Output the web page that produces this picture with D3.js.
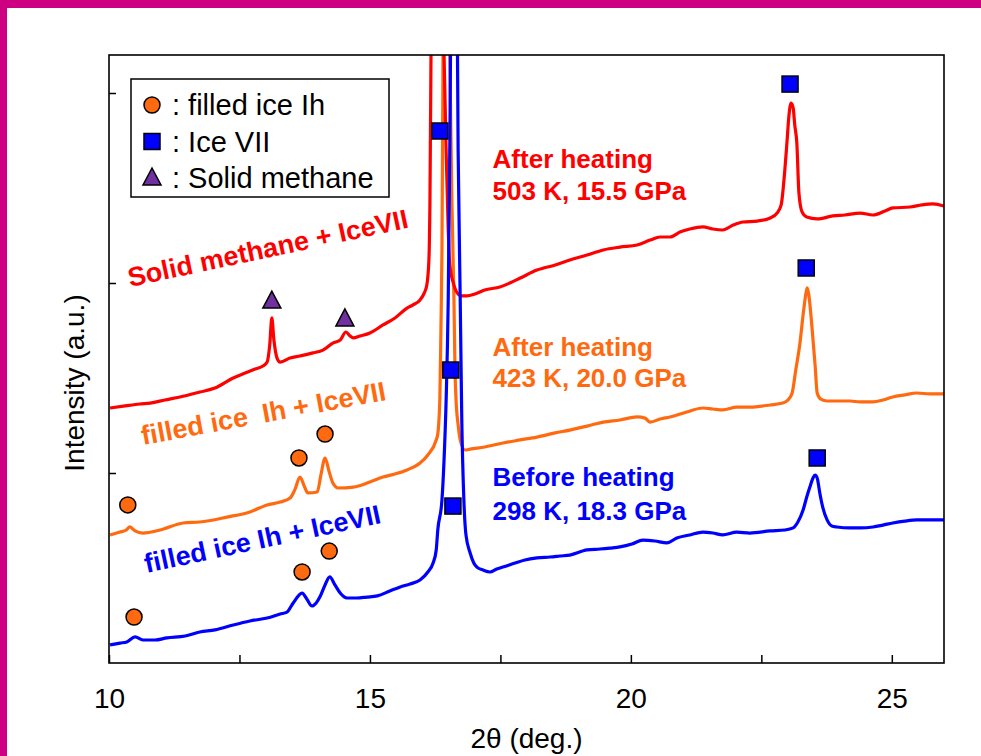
<!DOCTYPE html>
<html>
<head>
<meta charset="utf-8">
<script src="https://cdn.jsdelivr.net/npm/d3@7/dist/d3.min.js"></script>
<style>
  body { margin: 0; background: #fff; }
  text { font-family: "Liberation Sans", Arial, sans-serif; white-space: pre; }
</style>
</head>
<body>
<div id="chart"></div>
<script>
// 2theta (deg) vs intensity (a.u.)
const beforeHeating = [
  [10.02, 9.5], [10.21, 10.5], [10.34, 11.1], [10.50, 13.7], [10.65, 12.1], [10.88, 12.1],
  [11.11, 13.2], [11.46, 14.2], [11.74, 16.3], [12.03, 17.4], [12.38, 20.0], [12.70, 22.1],
  [13.03, 23.7], [13.28, 25.8], [13.41, 26.8], [13.53, 31.6], [13.70, 36.8], [13.79, 33.7],
  [13.89, 30.0], [13.97, 31.6], [14.04, 34.7], [14.14, 41.1], [14.23, 45.3], [14.33, 41.1],
  [14.43, 36.8], [14.56, 34.2], [14.75, 34.2], [14.94, 34.7], [15.14, 35.3], [15.38, 37.9],
  [15.58, 40.0], [15.77, 41.6], [15.96, 43.7], [16.11, 47.9], [16.21, 52.6], [16.27, 59.5],
  [16.30, 70.0], [16.38, 85.8], [16.42, 106.8], [16.46, 138.4], [16.50, 191.1], [16.53, 270],
  [16.61, 560], [16.69, 270], [16.73, 191], [16.76, 128], [16.80, 85.8], [16.84, 67.4],
  [16.92, 57.9], [16.99, 52.6], [17.05, 50.5], [17.17, 48.9], [17.30, 47.9], [17.43, 49.5],
  [17.55, 50.5], [17.78, 52.6], [17.97, 54.2], [18.20, 55.3], [18.45, 55.8], [18.64, 56.3],
  [18.83, 56.8], [19.16, 59.5], [19.41, 60.0], [19.60, 60.5], [19.79, 61.1], [20.02, 62.6],
  [20.23, 64.7], [20.46, 64.2], [20.69, 63.2], [20.88, 65.8], [21.13, 67.4], [21.38, 68.9],
  [21.57, 68.4], [21.76, 67.4], [22.03, 68.9], [22.28, 68.4], [22.67, 69.5], [22.95, 70.0],
  [23.11, 71.1], [23.20, 74.2], [23.30, 80.5], [23.37, 87.4], [23.43, 92.6], [23.49, 97.4],
  [23.53, 98.9], [23.57, 97.4], [23.62, 89.5], [23.68, 81.6], [23.76, 75.3], [23.85, 72.1],
  [23.95, 71.6], [24.20, 71.1], [24.39, 71.1], [24.64, 71.6], [24.83, 72.6], [25.02, 73.7],
  [25.25, 74.7], [25.48, 75.3], [25.73, 75.3], [26.0, 75.3]
]

const after423K = [
  [10.02, 67.4], [10.21, 68.9], [10.33, 70.0], [10.40, 71.6], [10.50, 69.5], [10.65, 68.4],
  [10.98, 70.0], [11.42, 73.7], [11.74, 74.2], [12.26, 76.8], [12.70, 79.5], [13.03, 83.2],
  [13.28, 84.7], [13.47, 86.8], [13.56, 91.1], [13.66, 97.9], [13.74, 93.2], [13.81, 89.5],
  [13.99, 90.0], [14.06, 98.9], [14.14, 107.9], [14.22, 100.5], [14.29, 94.7], [14.39, 92.1],
  [14.68, 92.6], [15.00, 95.3], [15.25, 97.9], [15.48, 99.5], [15.71, 101.6], [15.96, 105.3],
  [16.11, 109.5], [16.27, 117.4], [16.30, 120.5], [16.34, 139.5], [16.36, 175.3], [16.38, 217.4],
  [16.40, 320], [16.47, 520], [16.53, 320], [16.57, 243.7], [16.61, 191.1], [16.63, 154.2],
  [16.65, 138.4], [16.69, 125.3], [16.73, 117.4], [16.82, 112.1], [16.92, 112.6], [17.20, 113.7],
  [17.55, 115.8], [17.88, 117.4], [18.20, 118.9], [18.55, 121.1], [18.83, 122.6], [19.16, 124.7],
  [19.47, 126.8], [19.79, 127.9], [20.12, 129.5], [20.27, 128.9], [20.37, 126.8], [20.56, 128.4],
  [20.75, 129.5], [21.07, 132.1], [21.38, 134.2], [21.57, 133.7], [21.76, 133.2], [22.03, 134.7],
  [22.28, 134.7], [22.67, 135.8], [22.91, 136.8], [23.01, 138.4], [23.09, 142.1], [23.16, 154.2],
  [23.24, 168.4], [23.30, 183.2], [23.36, 195.3], [23.38, 197.4], [23.41, 193.7], [23.47, 176.8],
  [23.53, 156.8], [23.57, 142.1], [23.64, 138.9], [23.76, 137.9], [24.01, 137.9], [24.20, 137.9],
  [24.39, 137.4], [24.64, 137.4], [24.83, 138.4], [25.02, 140.0], [25.25, 141.1], [25.48, 142.1],
  [25.73, 141.6], [26.0, 141.6]
]

const after503K = [
  [10.02, 134.2], [10.31, 135.3], [10.59, 136.3], [10.79, 136.8], [11.07, 138.4], [11.36, 140.0],
  [11.74, 142.6], [12.03, 144.7], [12.38, 150.0], [12.61, 152.6], [12.80, 154.7], [12.95, 156.3],
  [13.03, 158.4], [13.08, 167.4], [13.12, 181.6], [13.16, 170.0], [13.22, 160.5], [13.28, 158.4],
  [13.47, 160.5], [13.66, 161.6], [13.91, 163.2], [14.10, 164.7], [14.29, 168.4], [14.43, 170.0],
  [14.54, 174.2], [14.62, 172.1], [14.68, 171.1], [14.81, 172.1], [15.00, 173.7], [15.25, 177.9],
  [15.48, 181.6], [15.71, 186.8], [15.82, 188.4], [15.96, 191.1], [16.04, 194.7], [16.09, 198.9],
  [16.13, 212.1], [16.15, 243.7], [16.17, 320], [16.29, 600], [16.42, 320], [16.46, 270],
  [16.50, 227.9], [16.53, 209.5], [16.61, 198.9], [16.69, 194.2], [16.76, 193.2], [16.86, 193.2],
  [17.01, 194.2], [17.20, 196.3], [17.49, 197.9], [17.68, 200.0], [17.88, 202.6], [18.20, 206.8],
  [18.55, 209.5], [18.83, 212.1], [19.16, 214.7], [19.47, 217.4], [19.79, 218.9], [20.12, 220.0],
  [20.37, 222.6], [20.56, 224.2], [20.75, 224.2], [20.94, 226.8], [21.13, 228.4], [21.38, 229.5],
  [21.57, 228.4], [21.76, 227.9], [21.96, 230.5], [22.15, 232.1], [22.42, 232.6], [22.67, 234.2],
  [22.80, 236.8], [22.88, 241.1], [22.91, 247.4], [22.95, 259.5], [22.99, 273.7], [23.03, 288.4],
  [23.07, 294.7], [23.11, 292.1], [23.14, 283.2], [23.18, 273.7], [23.22, 247.4], [23.28, 237.4],
  [23.37, 234.7], [23.57, 233.7], [23.87, 235.3], [24.10, 235.8], [24.39, 236.8], [24.64, 235.8],
  [24.87, 237.9], [25.02, 239.5], [25.35, 240.0], [25.58, 241.1], [25.79, 241.6], [26.0, 240.5]
]

// peak markers
const filledIcePeaks = [[10.36, 83.2], [13.64, 107.9], [14.14, 120.5], [10.48, 24.2], [13.70, 47.9], [14.22, 58.9]]
const iceVIIPeaks = [[16.34, 280], [23.05, 304.7], [16.55, 154.2], [23.36, 207.9], [16.59, 82.6], [23.57, 107.9]]
const methanePeaks = [[13.12, 190.5], [14.52, 181.1]]

const xTicks = [10, 12.5, 15, 17.5, 20, 22.5, 25]
const xTickLabels = [10, 15, 20, 25]
const yTicks = [100, 200, 300]

const legendLabels = [": filled ice Ih", ": Ice VII", ": Solid methane"]
const conditionLabels = [
  ["After heating", "503 K, 15.5 GPa"],
  ["After heating", "423 K, 20.0 GPa"],
  ["Before heating", "298 K, 18.3 GPa"]
]
const phaseLabels = ["Solid methane + IceVII", "filled ice  Ih + IceVII", "filled ice Ih + IceVII"]

const RED = "#ff0000"
const ORANGE = "#ff6a10"
const BLUE = "#0000ff"

const WIDTH = 981
const HEIGHT = 756
const plotLeft = 109, plotRight = 944, plotTop = 55, plotBottom = 663

const svg = d3.select("#chart").append("svg")
  .attr("width", WIDTH)
  .attr("height", HEIGHT)

// magenta page frame
svg.append("rect").attr("x", 0).attr("y", 0).attr("width", WIDTH).attr("height", 8).attr("fill", "#cc0080")
svg.append("rect").attr("x", 0).attr("y", 0).attr("width", 7).attr("height", HEIGHT).attr("fill", "#cc0080")

const x = d3.scaleLinear().domain([10, 26]).range([plotLeft, plotRight])
const y = d3.scaleLinear().domain([0, 320]).range([plotBottom, plotTop])

svg.append("clipPath").attr("id", "plot-clip")
  .append("rect")
  .attr("x", plotLeft).attr("y", plotTop)
  .attr("width", plotRight - plotLeft).attr("height", plotBottom - plotTop)

const line = d3.line()
  .x(d => x(d[0]))
  .y(d => y(d[1]))
  .curve(d3.curveMonotoneX)

const traces = svg.append("g").attr("clip-path", "url(#plot-clip)")
const series = [
  { data: after423K, color: ORANGE },
  { data: after503K, color: RED },
  { data: beforeHeating, color: BLUE }
]
traces.selectAll("path")
  .data(series)
  .join("path")
    .attr("d", d => line(d.data))
    .attr("fill", "none")
    .attr("stroke", d => d.color)
    .attr("stroke-width", 3.2)
    .attr("stroke-linejoin", "round")

// axes: ticks point inward, frame drawn separately
const xAxis = svg.append("g")
  .attr("transform", `translate(0,${plotBottom})`)
  .call(d3.axisBottom(x)
    .tickValues(xTicks)
    .tickSize(-8)
    .tickPadding(25)
    .tickFormat(d => xTickLabels.includes(d) ? d : ""))
xAxis.select(".domain").remove()
xAxis.selectAll("line").attr("stroke", "#000").attr("stroke-width", 1.5)
xAxis.selectAll("text").attr("font-size", 28).attr("fill", "#000")
  .style("font-family", "'Liberation Sans', Arial, sans-serif")

const yAxis = svg.append("g")
  .attr("transform", `translate(${plotLeft},0)`)
  .call(d3.axisLeft(y).tickValues(yTicks).tickSize(-7).tickFormat(""))
yAxis.select(".domain").remove()
yAxis.selectAll("line").attr("stroke", "#000").attr("stroke-width", 1.5)

svg.append("rect")
  .attr("x", plotLeft).attr("y", plotTop)
  .attr("width", plotRight - plotLeft).attr("height", plotBottom - plotTop)
  .attr("fill", "none")
  .attr("stroke", "#000")
  .attr("stroke-width", 1.6)

svg.append("text")
  .attr("x", (plotLeft + plotRight) / 2)
  .attr("y", 748)
  .attr("text-anchor", "middle")
  .attr("font-size", 28)
  .text("2θ (deg.)")

svg.append("text")
  .attr("transform", "translate(84,383) rotate(-90)")
  .attr("text-anchor", "middle")
  .attr("font-size", 28)
  .text("Intensity (a.u.)")

// peak markers
const circle = (g, cx, cy) => g.append("circle").attr("cx", cx).attr("cy", cy).attr("r", 8)
  .attr("fill", ORANGE).attr("stroke", "#000").attr("stroke-width", 1.5)
const square = (g, cx, cy) => g.append("rect").attr("x", cx - 8).attr("y", cy - 8)
  .attr("width", 16).attr("height", 16)
  .attr("fill", BLUE).attr("stroke", "#000").attr("stroke-width", 1.5)
const triangle = (g, cx, cy) => g.append("path")
  .attr("d", `M${cx},${cy - 10}L${cx + 9},${cy + 7}L${cx - 9},${cy + 7}Z`)
  .attr("fill", "#7030a0").attr("stroke", "#000").attr("stroke-width", 1.5)

const markers = svg.append("g")
filledIcePeaks.forEach(d => circle(markers, x(d[0]), y(d[1])))
iceVIIPeaks.forEach(d => square(markers, x(d[0]), y(d[1])))
methanePeaks.forEach(d => triangle(markers, x(d[0]), y(d[1])))

// legend
const legend = svg.append("g")
legend.append("rect")
  .attr("x", 131).attr("y", 79)
  .attr("width", 258).attr("height", 118)
  .attr("fill", "#fff").attr("stroke", "#000").attr("stroke-width", 1.5)
const legendSymbols = [circle, square, triangle]
legendLabels.forEach((label, i) => {
  const cy = 105 + i * 36.5
  legendSymbols[i](legend, 152, cy)
  legend.append("text")
    .attr("x", 172)
    .attr("y", cy + 10)
    .attr("font-size", 29)
    .text(label)
})

// sample conditions
const conditionAnchors = [[17.35, 260.5, 32], [17.35, 161.6, 31], [17.35, 93.2, 34]]
const conditionColors = [RED, ORANGE, BLUE]
conditionLabels.forEach((lines, i) => {
  const [cx, cy, gap] = conditionAnchors[i]
  lines.forEach((t, j) => {
    svg.append("text")
      .attr("x", x(cx))
      .attr("y", y(cy) + j * gap)
      .attr("font-size", 26)
      .attr("font-weight", "bold")
      .attr("fill", conditionColors[i])
      .text(t)
  })
})

// phase assignments, written along the traces
const phaseAnchors = [[10.40, 197.9, -12], [10.65, 114.7, -10.5], [10.72, 47.4, -12]]
phaseLabels.forEach((t, i) => {
  const [px, py, angle] = phaseAnchors[i]
  svg.append("text")
    .attr("transform", `translate(${x(px)},${y(py)}) rotate(${angle})`)
    .attr("font-size", 27)
    .attr("font-weight", "bold")
    .attr("fill", conditionColors[i])
    .text(t)
})
</script>
</body>
</html>
